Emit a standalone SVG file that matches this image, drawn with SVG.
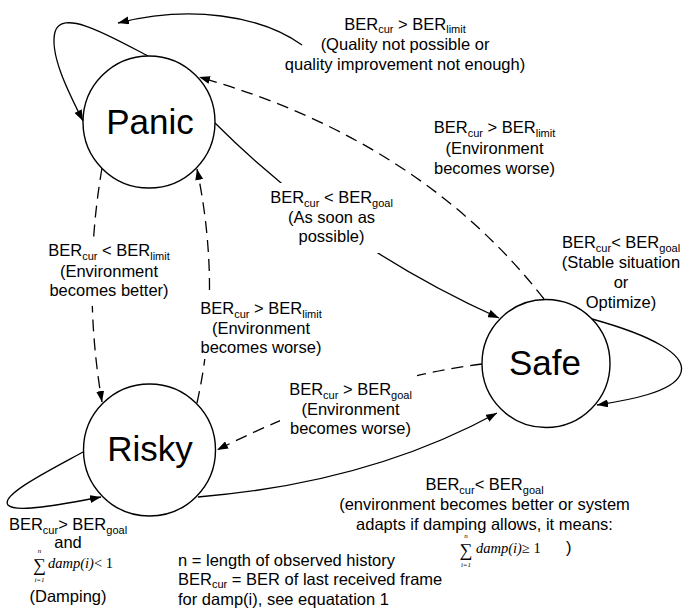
<svg xmlns="http://www.w3.org/2000/svg" width="683" height="612" viewBox="0 0 683 612">
<defs>
<style>
.lbl{font-family:"Liberation Sans",Arial,sans-serif;font-size:16.5px;fill:#000;text-anchor:middle}
.left{text-anchor:start}
.sub{font-size:11px}
.node{fill:#fff;stroke:#000;stroke-width:1.4}
.nt{font-family:"Liberation Sans",Arial,sans-serif;font-size:35px;fill:#000;text-anchor:middle}
.e{fill:none;stroke:#000;stroke-width:1.3}
.d{stroke-dasharray:12 7}
.bg{fill:#fff}
.m{font-family:"Liberation Serif","Times New Roman",serif;font-style:italic;font-size:14.5px;fill:#000}
.up{font-style:normal}
.sig{font-family:"Liberation Serif","DejaVu Serif",serif;font-size:18px;fill:#000;text-anchor:middle}
.lim{font-family:"Liberation Serif","Times New Roman",serif;font-style:italic;font-size:7px;fill:#000;text-anchor:middle}
</style>
<marker id="arr" viewBox="0 0 11 8" refX="11" refY="4" markerWidth="11" markerHeight="8" markerUnits="userSpaceOnUse" orient="auto">
<path d="M0,0 L11,4 L0,8 z" fill="#000"/>
</marker>
</defs>
<rect width="683" height="612" fill="#fff"/>

<g id="connectors">
<path class="e" d="M148,56 C110,36 62,8 55,32 C49,55 70,95 83,121" marker-end="url(#arr)"/>
<path class="e" d="M302,45 C260,15 190,5 118,23" marker-end="url(#arr)"/>
<path class="e d" d="M544,299 Q420,140 199,77" marker-end="url(#arr)"/>
<path class="e" d="M215,123 Q337,245 499,318" marker-end="url(#arr)"/>
<path class="e d" d="M102,168 Q82,285 102,402" marker-end="url(#arr)"/>
<path class="e d" d="M197,403 Q222,290 197,169" marker-end="url(#arr)"/>
<path class="e d" d="M482,364 Q356,380 217,450" marker-end="url(#arr)"/>
<path class="e" d="M198,497 Q369,483 497,413" marker-end="url(#arr)"/>
<path class="e" d="M83,452 C50,470 0,495 8,505 C15,513 60,505 101,497" marker-end="url(#arr)"/>
<path class="e" d="M592,319 C650,335 690,355 680,375 C672,392 630,400 597,405" marker-end="url(#arr)"/>
</g>

<g id="node-panic">
<circle class="node" cx="149" cy="122" r="66"/>
<text class="nt" x="150" y="134">Panic</text>
</g>
<g id="node-risky">
<circle class="node" cx="149.5" cy="450" r="66"/>
<text class="nt" x="150" y="461">Risky</text>
</g>
<g id="node-safe">
<circle class="node" cx="546" cy="363.5" r="64"/>
<text class="nt" x="545" y="375">Safe</text>
</g>

<g id="labels">
<g id="label-panic-self">
<text class="lbl" x="405" y="30">BER<tspan class="sub" dy="3">cur</tspan><tspan dy="-3"> &gt; BER</tspan><tspan class="sub" dy="3">limit</tspan></text>
<text class="lbl" x="405" y="50">(Quality not possible or</text>
<text class="lbl" x="405" y="70">quality improvement not enough)</text>
</g>
<g id="label-safe-panic">
<text class="lbl" x="494.5" y="133">BER<tspan class="sub" dy="4">cur</tspan><tspan dy="-4"> &gt; BER</tspan><tspan class="sub" dy="4">limit</tspan></text>
<text class="lbl" x="494.5" y="154">(Environment</text>
<text class="lbl" x="494.5" y="174">becomes worse)</text>
</g>
<g id="label-panic-safe">
<rect class="bg" x="265" y="183" width="134" height="70"/>
<text class="lbl" x="331.5" y="203">BER<tspan class="sub" dy="4">cur</tspan><tspan dy="-4"> &lt; BER</tspan><tspan class="sub" dy="4">goal</tspan></text>
<text class="lbl" x="331.5" y="223">(As soon as</text>
<text class="lbl" x="331.5" y="242">possible)</text>
</g>
<g id="label-panic-risky">
<rect class="bg" x="44" y="237" width="131" height="69"/>
<text class="lbl" x="109" y="256">BER<tspan class="sub" dy="4">cur</tspan><tspan dy="-4"> &lt; BER</tspan><tspan class="sub" dy="4">limit</tspan></text>
<text class="lbl" x="109" y="277">(Environment</text>
<text class="lbl" x="109" y="296">becomes better)</text>
</g>
<g id="label-risky-panic">
<rect class="bg" x="196" y="295" width="131" height="64"/>
<text class="lbl" x="261" y="314">BER<tspan class="sub" dy="4">cur</tspan><tspan dy="-4"> &gt; BER</tspan><tspan class="sub" dy="4">limit</tspan></text>
<text class="lbl" x="261" y="334">(Environment</text>
<text class="lbl" x="261" y="353">becomes worse)</text>
</g>
<g id="label-safe-risky">
<rect class="bg" x="280" y="373" width="137" height="66"/>
<text class="lbl" x="350.5" y="395">BER<tspan class="sub" dy="3.5">cur</tspan><tspan dy="-3.5"> &gt; BER</tspan><tspan class="sub" dy="3.5">goal</tspan></text>
<text class="lbl" x="350.5" y="415">(Environment</text>
<text class="lbl" x="350.5" y="434">becomes worse)</text>
</g>
<g id="label-safe-self">
<text class="lbl" x="621" y="248">BER<tspan class="sub" dy="4">cur</tspan><tspan dy="-4">&lt; BER</tspan><tspan class="sub" dy="4">goal</tspan></text>
<text class="lbl" x="621" y="268">(Stable situation</text>
<text class="lbl" x="621" y="288">or</text>
<text class="lbl" x="621" y="308">Optimize)</text>
</g>
<g id="label-risky-safe">
<text class="lbl" x="484.5" y="490">BER<tspan class="sub" dy="4">cur</tspan><tspan dy="-4">&lt; BER</tspan><tspan class="sub" dy="4">goal</tspan></text>
<text class="lbl" x="484.5" y="510">(environment becomes better or system</text>
<text class="lbl" x="484.5" y="530">adapts if damping allows, it means:</text>
<text class="sig" x="466" y="556">∑</text>
<text class="lim" x="466" y="538">n</text>
<text class="lim" x="466" y="567">i=1</text>
<text class="m" x="476" y="553">damp(i)<tspan class="up">≥ 1</tspan></text>
<text class="lbl left" x="566" y="553">)</text>
</g>
<g id="label-risky-self">
<text class="lbl" x="68" y="530">BER<tspan class="sub" dy="4">cur</tspan><tspan dy="-4">&gt; BER</tspan><tspan class="sub" dy="4">goal</tspan></text>
<text class="lbl" x="68" y="548">and</text>
<text class="sig" x="39.5" y="571">∑</text>
<text class="lim" x="39.5" y="553">n</text>
<text class="lim" x="39.5" y="582">i=1</text>
<text class="m" x="48" y="568">damp(i)<tspan class="up">&lt; 1</tspan></text>
<text class="lbl" x="68" y="602">(Damping)</text>
</g>
<g id="notes">
<text class="lbl left" x="178" y="566">n = length of observed history</text>
<text class="lbl left" x="178" y="585">BER<tspan class="sub" dy="3">cur</tspan><tspan dy="-3"> = BER of last received frame</tspan></text>
<text class="lbl left" x="178" y="605">for damp(i), see equatation 1</text>
</g>
</g>
</svg>
